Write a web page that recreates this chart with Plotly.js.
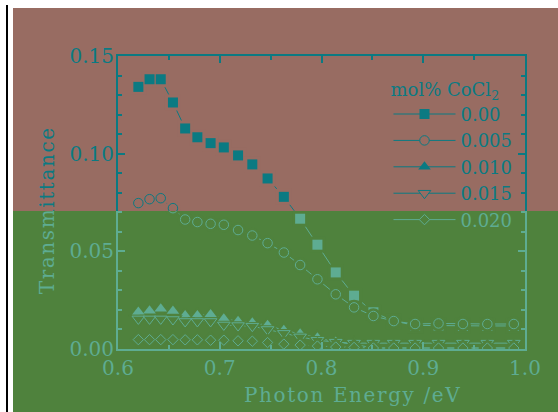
<!DOCTYPE html>
<html><head><meta charset="utf-8">
<script src="https://cdn.plot.ly/plotly-3.0.1.min.js"></script>
<style>
html,body{margin:0;padding:0;background:#fff;width:558px;height:412px;overflow:hidden;position:relative}
#frame{position:absolute;left:6px;top:5px;width:2px;height:407px;background:#000}
.chart{position:absolute;left:13px;top:8px;width:545px;height:404px}
#top{clip-path:inset(0 0 201px 0)}
#bot{clip-path:inset(203px 0 0 0)}
.annotation-text{letter-spacing:1.6px}
</style></head><body>
<div id="frame"></div>
<div id="top" class="chart"></div>
<div id="bot" class="chart"></div>
<script>
// Photon energy (eV)
const energy = [0.620, 0.631, 0.642, 0.654, 0.666, 0.678, 0.691, 0.704, 0.718, 0.732, 0.747, 0.763,
                0.779, 0.796, 0.814, 0.832, 0.851, 0.871, 0.892, 0.915, 0.939, 0.963, 0.989];
// Transmittance per CoCl2 mol%
const t000 = [0.1342, 0.1381, 0.1381, 0.1262, 0.1129, 0.1084, 0.1054, 0.1032, 0.0991, 0.0945, 0.0873, 0.0779,
              0.0667, 0.0534, 0.0392, 0.0273, 0.0188, 0.0143, 0.0121, 0.0120, 0.0118, 0.0118, 0.0118];
const t005 = [0.0747, 0.0767, 0.0772, 0.0721, 0.0663, 0.0650, 0.0641, 0.0636, 0.0609, 0.0581, 0.0542, 0.0494,
              0.0430, 0.0357, 0.0280, 0.0213, 0.0169, 0.0143, 0.0128, 0.0131, 0.0128, 0.0128, 0.0128];
const t010 = [0.0189, 0.0196, 0.0206, 0.0194, 0.0172, 0.0172, 0.0177, 0.0155, 0.0142, 0.0135, 0.0121, 0.0096,
              0.0078, 0.0058, 0.0036, 0.0024, 0.0005, 0.0005, 0.0005, 0.0005, 0.0005, 0.0005, 0.0005];
const t015 = [0.0154, 0.0154, 0.0154, 0.0151, 0.0141, 0.0141, 0.0141, 0.0123, 0.0120, 0.0117, 0.0100, 0.0080,
              0.0062, 0.0045, 0.0035, 0.0030, 0.0030, 0.0030, 0.0030, 0.0030, 0.0030, 0.0030, 0.0030];
const t020 = [0.0048, 0.0048, 0.0048, 0.0048, 0.0047, 0.0047, 0.0045, 0.0045, 0.0042, 0.0040, 0.0033, 0.0025,
              0.0020, 0.0015, 0.0010, 0.0008, 0.0005, 0.0005, 0.0005, 0.0005, 0.0005, 0.0005, 0.0005];

const seriesNames = ['0.00', '0.005', '0.010', '0.015', '0.020'];
const seriesValues = [t000, t005, t010, t015, t020];
const symbols = ['square', 'circle', 'triangle-up', 'triangle-down', 'diamond'];
const filled = [true, false, true, false, false];
const sizes = [10, 9.5, 11, 11, 8];

function build(id, bg, fg) {
  const traces = [];
  seriesValues.forEach((vals, i) => {
    traces.push({x: energy, y: vals, mode: 'lines', line: {color: fg, width: 1},
                 showlegend: false, hoverinfo: 'skip'});
    traces.push({x: energy, y: vals, mode: 'markers', showlegend: false, hoverinfo: 'skip',
                 marker: {symbol: symbols[i], size: sizes[i] + 6, color: bg, line: {width: 0}}});
    traces.push({x: energy, y: vals, mode: 'markers', showlegend: false, hoverinfo: 'skip',
                 marker: {symbol: symbols[i], size: sizes[i], color: filled[i] ? fg : bg,
                          line: {color: fg, width: filled[i] ? 0 : 1}}});
  });
  seriesValues.forEach((vals, i) => {
    traces.push({x: [null], y: [null], name: seriesNames[i], mode: 'lines+markers',
                 line: {color: fg, width: 1},
                 marker: {symbol: symbols[i], size: sizes[i], color: filled[i] ? fg : bg,
                          line: {color: fg, width: filled[i] ? 0 : 1}}});
  });
  const font = {family: 'DejaVu Serif', size: 20, color: fg};
  const legFont = {family: 'DejaVu Serif', size: 18, color: fg};
  const axisCommon = {
    showgrid: false, zeroline: false, showline: true, linecolor: fg, linewidth: 2,
    mirror: 'ticks', ticks: 'inside', ticklen: 7, tickwidth: 2, tickcolor: fg,
    tickfont: font, fixedrange: true
  };
  const layout = {
    width: 545, height: 404,
    paper_bgcolor: bg, plot_bgcolor: bg,
    margin: {l: 105, r: 33, t: 48, b: 63},
    font: font,
    showlegend: true,
    legend: {x: 0.6646, y: 0.944, xanchor: 'left', yanchor: 'top', bgcolor: 'rgba(0,0,0,0)',
             font: legFont, itemwidth: 62, tracegroupgap: 0,
             title: {text: 'mol% CoCl<sub>2</sub>', font: legFont, side: 'top'}},
    xaxis: Object.assign({}, axisCommon, {range: [0.6, 1.0], tick0: 0.6, dtick: 0.1, tickformat: '.1f',
             minor: {dtick: 0.05, ticks: 'inside', ticklen: 4, tickwidth: 2, tickcolor: fg}}),
    yaxis: Object.assign({}, axisCommon, {range: [0, 0.15], tick0: 0, dtick: 0.05, tickformat: '.2f',
             ticklabelstandoff: -2,
             minor: {dtick: 0.01, ticks: 'inside', ticklen: 4, tickwidth: 2, tickcolor: fg}}),
    annotations: [
      {text: 'Photon Energy /eV', xref: 'paper', yref: 'paper', x: 0.575, y: -0.11,
       xanchor: 'center', yanchor: 'top', showarrow: false, font: font},
      {text: 'Transmittance', xref: 'paper', yref: 'paper', x: -0.174, y: 0.474, textangle: -90,
       xanchor: 'center', yanchor: 'middle', showarrow: false, font: font}
    ]
  };
  Plotly.newPlot(id, traces, layout, {staticPlot: true, displayModeBar: false});
}
build('top', '#986c62', '#0b7a82');
build('bot', '#4f823d', '#5eac92');
</script>
</body></html>
